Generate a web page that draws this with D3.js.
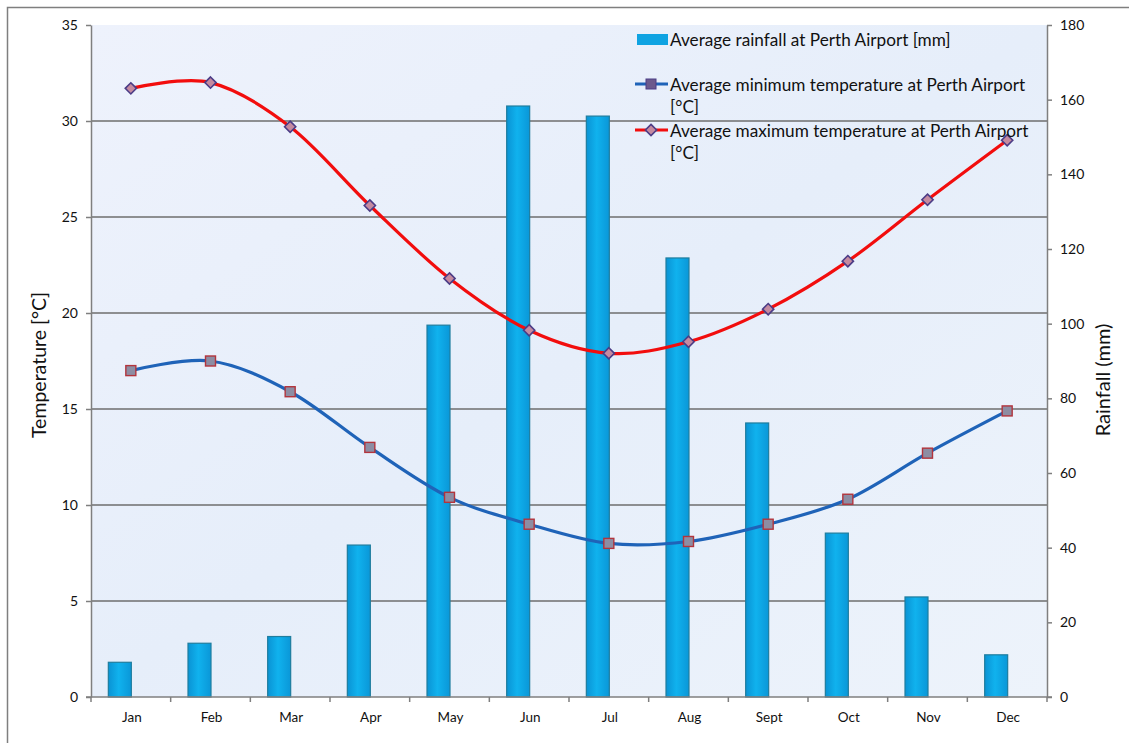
<!DOCTYPE html>
<html>
<head>
<meta charset="utf-8">
<script src="https://cdn.jsdelivr.net/npm/d3@7"></script>
<style>
  html, body { margin: 0; padding: 0; background: #ffffff; }
  svg { display: block; font-family: Lato, "Open Sans", "Liberation Sans", sans-serif; }
</style>
</head>
<body>
<svg id="chart" width="1129" height="743"></svg>
<script>
// Perth Airport climate: monthly rainfall (mm) and average temperatures (°C)
const months = ["Jan", "Feb", "Mar", "Apr", "May", "Jun", "Jul", "Aug", "Sept", "Oct", "Nov", "Dec"];
const rainfall = [9.3, 14.4, 16.2, 40.7, 99.6, 158.3, 155.6, 117.6, 73.4, 43.9, 26.8, 11.3];
const minTemp = [17.0, 17.5, 15.9, 13.0, 10.4, 9.0, 8.0, 8.1, 9.0, 10.3, 12.7, 14.9];
const maxTemp = [31.7, 32.0, 29.7, 25.6, 21.8, 19.1, 17.9, 18.5, 20.2, 22.7, 25.9, 29.0];
const tempTicks = [0, 5, 10, 15, 20, 25, 30, 35];
const rainTicks = [0, 20, 40, 60, 80, 100, 120, 140, 160, 180];
const legendLabels = [
  ["Average rainfall at Perth Airport [mm]"],
  ["Average minimum temperature at Perth Airport", "[°C]"],
  ["Average maximum temperature at Perth Airport", "[°C]"]
];

const svg = d3.select("#chart");
const plot = { left: 91, right: 1047, top: 25, bottom: 697 };

// Outer chart frame
svg.append("rect")
  .attr("x", 7.5).attr("y", 7.5).attr("width", 1140).attr("height", 760)
  .attr("fill", "#ffffff").attr("stroke", "#7f7f7f").attr("stroke-width", 1.5);

const defs = svg.append("defs");
const bg = defs.append("linearGradient").attr("id", "plotBg")
  .attr("x1", 0).attr("y1", 0).attr("x2", 1).attr("y2", 1);
bg.append("stop").attr("offset", "0%").attr("stop-color", "#eef2fc");
bg.append("stop").attr("offset", "50%").attr("stop-color", "#e6eefa");
bg.append("stop").attr("offset", "100%").attr("stop-color", "#edf3fb");

const barGrad = defs.append("linearGradient").attr("id", "barFill")
  .attr("x1", 0).attr("y1", 0).attr("x2", 1).attr("y2", 0);
barGrad.append("stop").attr("offset", "0%").attr("stop-color", "#0a93d4");
barGrad.append("stop").attr("offset", "45%").attr("stop-color", "#10b2ee");
barGrad.append("stop").attr("offset", "100%").attr("stop-color", "#0a97d8");

// Plot area background
svg.append("rect")
  .attr("x", plot.left).attr("y", plot.top)
  .attr("width", plot.right - plot.left).attr("height", plot.bottom - plot.top)
  .attr("fill", "url(#plotBg)");

// Scales
const x = d3.scaleBand().domain(months).range([plot.left, plot.right]).padding(0);
const yT = d3.scaleLinear().domain([0, 35]).range([plot.bottom, plot.top]);
const yR = d3.scaleLinear().domain([0, 180]).range([plot.bottom, plot.top]);
const cx = m => x(m) + x.bandwidth() / 2;

// Horizontal gridlines
svg.append("g").selectAll("line")
  .data(tempTicks.filter(t => t > 0 && t < 35))
  .join("line")
  .attr("x1", plot.left).attr("x2", plot.right)
  .attr("y1", d => yT(d)).attr("y2", d => yT(d))
  .attr("stroke", "#6e6e6e").attr("stroke-width", 1.5);

// Rainfall bars
const barW = 23;
svg.append("g").selectAll("rect")
  .data(months.map((m, i) => ({ m, v: rainfall[i] })))
  .join("rect")
  .attr("x", d => cx(d.m) - 11 - barW / 2)
  .attr("y", d => yR(d.v))
  .attr("width", barW)
  .attr("height", d => plot.bottom - yR(d.v))
  .attr("fill", "url(#barFill)")
  .attr("stroke", "#1f7d9e").attr("stroke-width", 1.2);

// Axes
const axisColor = "#7f7f7f";
function styleAxis(g) {
  g.selectAll(".domain").attr("stroke", axisColor).attr("stroke-width", 1.5);
  g.selectAll(".tick line").attr("stroke", axisColor).attr("stroke-width", 1.5);
  g.selectAll(".tick text").attr("fill", "#111").style("font-size", "14px")
    .style("font-family", "Lato, 'Open Sans', sans-serif");
}

svg.append("g")
  .attr("transform", `translate(${plot.left},0)`)
  .call(d3.axisLeft(yT).tickValues(tempTicks).tickSize(5).tickPadding(8).tickSizeOuter(0))
  .call(styleAxis);

svg.append("g")
  .attr("transform", `translate(${plot.right},0)`)
  .call(d3.axisRight(yR).tickValues(rainTicks).tickSize(5).tickPadding(8).tickSizeOuter(0))
  .call(styleAxis);

// Bottom axis: ticks on category boundaries, labels centred
const xAxis = svg.append("g").attr("transform", `translate(0,${plot.bottom})`);
xAxis.append("line")
  .attr("x1", plot.left - 5).attr("x2", plot.right + 5)
  .attr("stroke", axisColor).attr("stroke-width", 1.5);
xAxis.selectAll("line.tk")
  .data(d3.range(months.length + 1))
  .join("line").attr("class", "tk")
  .attr("x1", i => plot.left + i * x.bandwidth())
  .attr("x2", i => plot.left + i * x.bandwidth())
  .attr("y1", 0).attr("y2", 5)
  .attr("stroke", axisColor).attr("stroke-width", 1.5);
xAxis.selectAll("text")
  .data(months)
  .join("text")
  .attr("x", d => cx(d) + 1).attr("y", 25)
  .attr("text-anchor", "middle")
  .attr("fill", "#111").style("font-size", "13.5px")
  .text(d => d);

// Axis titles
svg.append("text")
  .attr("transform", "translate(46,365) rotate(-90)")
  .attr("text-anchor", "middle").attr("fill", "#111")
  .style("font-size", "19.5px").text("Temperature [°C]");
svg.append("text")
  .attr("transform", "translate(1110,380) rotate(-90)")
  .attr("text-anchor", "middle").attr("fill", "#111")
  .style("font-size", "20px").text("Rainfall (mm)");

// Smoothed temperature lines
const line = (scaleY) => d3.line()
  .x((d, i) => cx(months[i]))
  .y(d => scaleY(d))
  .curve(d3.curveCatmullRom.alpha(0));

svg.append("path").datum(minTemp)
  .attr("d", line(yT))
  .attr("fill", "none").attr("stroke", "#1f63b8").attr("stroke-width", 3.2);
svg.append("path").datum(maxTemp)
  .attr("d", line(yT))
  .attr("fill", "none").attr("stroke", "#f20d0d").attr("stroke-width", 3.2);

// Markers
svg.append("g").selectAll("rect")
  .data(minTemp)
  .join("rect")
  .attr("x", (d, i) => cx(months[i]) - 5)
  .attr("y", d => yT(d) - 5)
  .attr("width", 10).attr("height", 10)
  .attr("fill", "#8d8da3").attr("stroke", "#b2343c").attr("stroke-width", 1.4);

const diamond = d3.symbol().type(d3.symbolDiamond2).size(80);
svg.append("g").selectAll("path")
  .data(maxTemp)
  .join("path")
  .attr("transform", (d, i) => `translate(${cx(months[i])},${yT(d)})`)
  .attr("d", diamond)
  .attr("fill", "#c58aa0").attr("stroke", "#4b3c86").attr("stroke-width", 1.6);

// Legend
const lg = svg.append("g").style("font-size", "17.2px").attr("fill", "#111");
lg.append("rect").attr("x", 637).attr("y", 34).attr("width", 31).attr("height", 11)
  .attr("fill", "#0fa3e2");
lg.append("text").attr("x", 670).attr("y", 46).text(legendLabels[0][0]);

lg.append("line").attr("x1", 635).attr("x2", 668).attr("y1", 84).attr("y2", 84)
  .attr("stroke", "#1f63b8").attr("stroke-width", 3.2);
lg.append("rect").attr("x", 646).attr("y", 79).attr("width", 10).attr("height", 10)
  .attr("fill", "#6c5a8c").attr("stroke", "#4b3c86").attr("stroke-width", 1);
lg.append("text").attr("x", 670).attr("y", 91).text(legendLabels[1][0]);
lg.append("text").attr("x", 670).attr("y", 113).text(legendLabels[1][1]);

lg.append("line").attr("x1", 635).attr("x2", 668).attr("y1", 130).attr("y2", 130)
  .attr("stroke", "#f20d0d").attr("stroke-width", 3.2);
lg.append("path").attr("transform", "translate(651,130)").attr("d", diamond)
  .attr("fill", "#c58aa0").attr("stroke", "#4b3c86").attr("stroke-width", 1.6);
lg.append("text").attr("x", 670).attr("y", 137).text(legendLabels[2][0]);
lg.append("text").attr("x", 670).attr("y", 159).text(legendLabels[2][1]);
</script>
</body>
</html>
